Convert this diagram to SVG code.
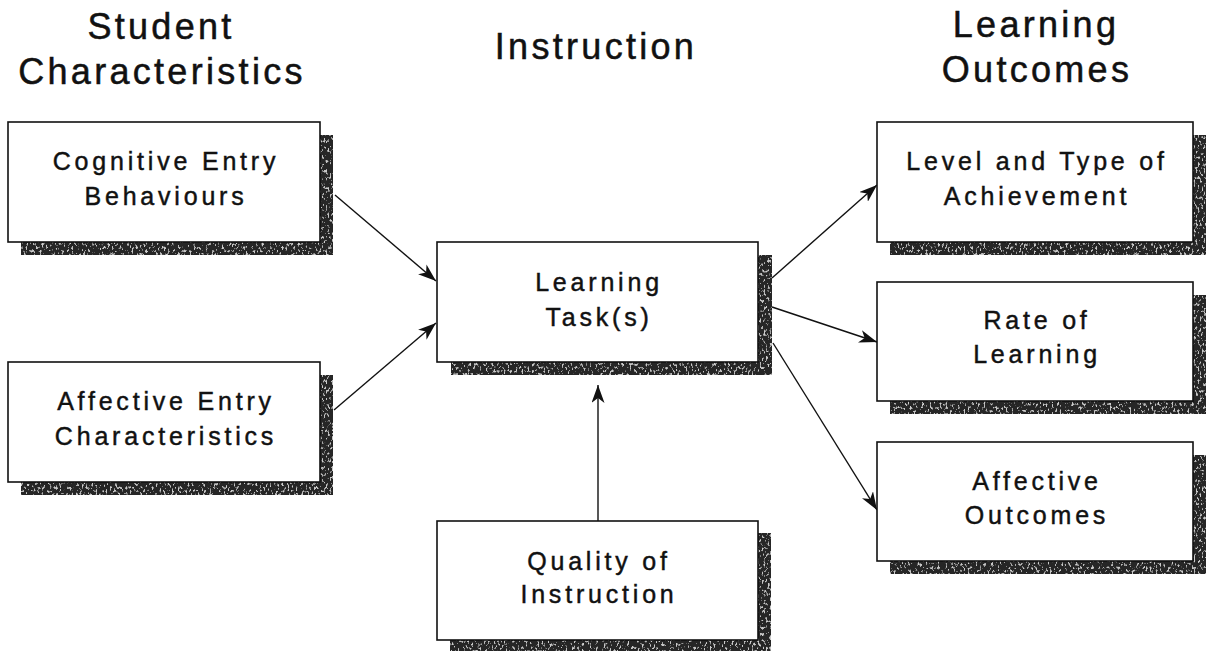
<svg xmlns="http://www.w3.org/2000/svg" width="1207" height="652" viewBox="0 0 1207 652">
<style>
.title{font-family:"Liberation Sans",Arial,sans-serif;font-size:36px;letter-spacing:3.3px;fill:#111;stroke:#111;stroke-width:0.5;text-anchor:middle}
.lbl{font-family:"Liberation Sans",Arial,sans-serif;font-size:25px;letter-spacing:3.8px;fill:#111;stroke:#111;stroke-width:0.45;text-anchor:middle}
.box{fill:#fff;stroke:#111;stroke-width:1.6}
.shadow{fill:#262626;filter:url(#grain)}
.conn{stroke:#111;stroke-width:1.4;fill:none;marker-end:url(#ah)}
</style>
<defs>
<filter id="grain" x="0" y="0" width="1" height="1">
<feTurbulence type="fractalNoise" baseFrequency="0.5 0.3" numOctaves="2" seed="7" result="n"/>
<feColorMatrix in="n" type="matrix" values="0 0 0 0 0.6  0 0 0 0 0.6  0 0 0 0 0.6  7 0 0 0 -4.0" result="sp"/>
<feComposite in="sp" in2="SourceAlpha" operator="in" result="spc"/>
<feMerge><feMergeNode in="SourceGraphic"/><feMergeNode in="spc"/></feMerge>
</filter>
<marker id="ah" viewBox="0 0 18 13" refX="18" refY="6.5" markerWidth="18" markerHeight="13" markerUnits="userSpaceOnUse" orient="auto">
<path d="M0,0 L18,6.5 L0,13 L5,6.5 z" fill="#111"/>
</marker>
</defs>
<rect width="1207" height="652" fill="#fff"/>
<g id="titles">
<text class="title" x="161" y="39">Student</text>
<text class="title" x="162" y="84">Characteristics</text>
<text class="title" x="596" y="59">Instruction</text>
<text class="title" x="1036" y="37">Learning</text>
<text class="title" x="1037" y="82">Outcomes</text>
</g>
<g id="connectors">
<line class="conn" x1="335" y1="195" x2="436" y2="281"/>
<line class="conn" x1="334" y1="410" x2="436" y2="323"/>
<line class="conn" x1="598" y1="521" x2="598" y2="385"/>
<line class="conn" x1="772" y1="278" x2="877" y2="185"/>
<line class="conn" x1="772" y1="307" x2="877" y2="342"/>
<line class="conn" x1="773" y1="343" x2="877" y2="510"/>
</g>
<g id="cognitive">
<rect class="shadow" x="21" y="135" width="312" height="120"/>
<rect class="box" x="8" y="122" width="312" height="120"/>
<text class="lbl" x="166" y="170">Cognitive Entry</text>
<text class="lbl" x="166" y="205">Behaviours</text>
</g>
<g id="affective-entry">
<rect class="shadow" x="21" y="375" width="312" height="120"/>
<rect class="box" x="8" y="362" width="312" height="120"/>
<text class="lbl" x="166" y="410">Affective Entry</text>
<text class="lbl" x="166" y="445">Characteristics</text>
</g>
<g id="learning-task">
<rect class="shadow" x="451" y="255" width="321" height="120"/>
<rect class="box" x="437" y="242" width="321" height="120"/>
<text class="lbl" x="599" y="291">Learning</text>
<text class="lbl" x="599" y="326">Task(s)</text>
</g>
<g id="quality">
<rect class="shadow" x="450" y="533" width="321" height="118"/>
<rect class="box" x="437" y="521" width="321" height="119"/>
<text class="lbl" x="599" y="570">Quality of</text>
<text class="lbl" x="599" y="603">Instruction</text>
</g>
<g id="level">
<rect class="shadow" x="890" y="135" width="316" height="120"/>
<rect class="box" x="877" y="122" width="316" height="120"/>
<text class="lbl" x="1037" y="170">Level and Type of</text>
<text class="lbl" x="1037" y="205">Achievement</text>
</g>
<g id="rate">
<rect class="shadow" x="890" y="295" width="316" height="119"/>
<rect class="box" x="877" y="282" width="316" height="119"/>
<text class="lbl" x="1037" y="329">Rate of</text>
<text class="lbl" x="1037" y="363">Learning</text>
</g>
<g id="affective-outcomes">
<rect class="shadow" x="890" y="455" width="316" height="119"/>
<rect class="box" x="877" y="442" width="316" height="119"/>
<text class="lbl" x="1037" y="490">Affective</text>
<text class="lbl" x="1037" y="524">Outcomes</text>
</g>
</svg>
